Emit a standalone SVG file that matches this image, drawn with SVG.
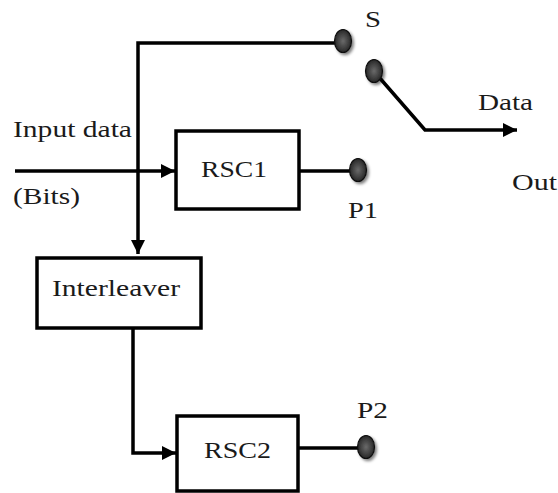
<svg xmlns="http://www.w3.org/2000/svg" width="558" height="493" viewBox="0 0 558 493">
<style>
text{font-family:"Liberation Serif","Times New Roman",serif;fill:#1a1a1a;font-size:24px}
.box{fill:#fff;stroke:#000;stroke-width:3.5}
.ln{fill:none;stroke:#000;stroke-width:3.5;stroke-linejoin:miter}
.dot{fill:url(#dg);stroke:#111;stroke-width:1.2;filter:url(#sh)}
</style>
<defs>
<radialGradient id="dg" cx="0.5" cy="0.5" r="0.6">
<stop offset="0" stop-color="#6a6a6a"/>
<stop offset="0.6" stop-color="#3a3a3a"/>
<stop offset="1" stop-color="#151515"/>
</radialGradient>
<filter id="sh" x="-50%" y="-50%" width="200%" height="200%">
<feGaussianBlur in="SourceAlpha" stdDeviation="1.5"/>
<feOffset dx="1.5" dy="1.5" result="b"/>
<feComponentTransfer><feFuncA type="linear" slope="0.5"/></feComponentTransfer>
<feMerge><feMergeNode/><feMergeNode in="SourceGraphic"/></feMerge>
</filter>
<marker id="ah" markerWidth="14" markerHeight="14" viewBox="0 0 14 14" refX="14" refY="7" orient="auto" markerUnits="userSpaceOnUse">
<path d="M0,0 L14,7 L0,14 Z" fill="#000"/>
</marker>
</defs>
<rect width="558" height="493" fill="#fff"/>
<g id="connectors">
<path class="ln" d="M343,43 H138 V254" marker-end="url(#ah)"/>
<path class="ln" d="M15,171 H175" marker-end="url(#ah)"/>
<path class="ln" d="M299,171 H356"/>
<path class="ln" d="M133,328 V453 H176" marker-end="url(#ah)"/>
<path class="ln" d="M298,448 H365"/>
<path class="ln" d="M378,76 L425,130 H517" marker-end="url(#ah)"/>
</g>
<g id="switch">
<ellipse class="dot" cx="343" cy="41" rx="8.5" ry="11.5"/>
<ellipse class="dot" cx="374" cy="71" rx="8.5" ry="11.5"/>
<text x="365" y="27" font-size="23" textLength="16" lengthAdjust="spacingAndGlyphs">S</text>
</g>
<g id="input">
<text x="13" y="137" font-size="26" textLength="119" lengthAdjust="spacingAndGlyphs">Input data</text>
<text x="13" y="204" font-size="26" textLength="67" lengthAdjust="spacingAndGlyphs">(Bits)</text>
</g>
<g id="rsc1">
<rect class="box" x="176" y="131" width="123" height="78"/>
<text x="201" y="177" font-size="24" textLength="66" lengthAdjust="spacingAndGlyphs">RSC1</text>
</g>
<g id="p1">
<ellipse class="dot" cx="358" cy="170" rx="8.5" ry="11.5"/>
<text x="348" y="218" font-size="26" textLength="30" lengthAdjust="spacingAndGlyphs">P1</text>
</g>
<g id="interleaver">
<rect class="box" x="37" y="258" width="164" height="70"/>
<text x="52" y="296" font-size="27" textLength="128" lengthAdjust="spacingAndGlyphs">Interleaver</text>
</g>
<g id="rsc2">
<rect class="box" x="177" y="416" width="121" height="75"/>
<text x="204" y="458" font-size="24" textLength="67" lengthAdjust="spacingAndGlyphs">RSC2</text>
</g>
<g id="p2">
<ellipse class="dot" cx="366" cy="447" rx="8.5" ry="11.5"/>
<text x="357" y="418" font-size="24" textLength="31" lengthAdjust="spacingAndGlyphs">P2</text>
</g>
<g id="output">
<text x="478" y="110" font-size="24" textLength="55" lengthAdjust="spacingAndGlyphs">Data</text>
<text x="512" y="190" font-size="24" textLength="45" lengthAdjust="spacingAndGlyphs">Out</text>
</g>
</svg>
